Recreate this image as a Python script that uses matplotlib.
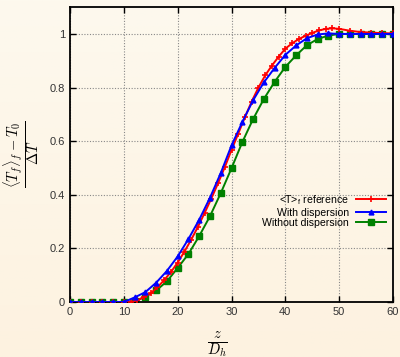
import numpy as np
import matplotlib
matplotlib.use("Agg")
import matplotlib.pyplot as plt

plt.rcParams['font.family'] = ['Liberation Sans', 'DejaVu Sans']
plt.rcParams['mathtext.fontset'] = 'cm'

# reference curve (red)
ref_x = [0, 2, 4, 6, 8, 10, 11.25, 12.5, 13.75, 15, 16.25, 17.5, 18.75, 20,
         21.25, 22.5, 23.75, 25, 26.25, 27.5, 28.75, 30, 31.25, 32.5, 33.75,
         35, 36.25, 37.5, 38.75, 40, 41.25, 42.5, 43.75, 45, 46.25, 47.5,
         48.75, 50, 52, 54, 56, 58, 60]
ref_y = [0, 0, 0, 0, 0, 0, 0.0, 0.006, 0.018, 0.033, 0.055, 0.082, 0.112,
         0.147, 0.188, 0.232, 0.280, 0.332, 0.386, 0.443, 0.503, 0.567, 0.628,
         0.690, 0.748, 0.800, 0.845, 0.882, 0.915, 0.945, 0.965, 0.981, 0.993,
         1.004, 1.013, 1.019, 1.021, 1.019, 1.012, 1.007, 1.005, 1.003, 1.002]

# model curves, every 2 units
z = list(range(0, 61, 2))
with_disp = [0, 0, 0, 0, 0, 0, 0.017, 0.037, 0.072, 0.116, 0.170, 0.235,
             0.307, 0.389, 0.481, 0.584, 0.671, 0.752, 0.819, 0.873, 0.922,
             0.957, 0.984, 0.998, 1.002, 1.0, 1.0, 1.0, 1.0, 1.0, 1.0]
without_disp = [0, 0, 0, 0, 0, 0, 0.003, 0.020, 0.043, 0.077, 0.127, 0.179,
                0.246, 0.320, 0.406, 0.499, 0.596, 0.682, 0.757, 0.821, 0.877,
                0.920, 0.958, 0.981, 0.994, 1.0, 1.0, 1.0, 1.0, 1.0, 1.0]

fig = plt.figure(figsize=(4.0, 3.57), dpi=100)

# cream background with a faint vertical gradient
bg = fig.add_axes([0, 0, 1, 1], zorder=-10)
grad = np.linspace(0, 1, 256).reshape(-1, 1)
top = np.array([253, 249, 238]) / 255
bot = np.array([253, 242, 224]) / 255
img = top + (bot - top) * grad[:, :, None]
bg.imshow(np.repeat(img, 2, axis=1), aspect='auto', extent=[0, 1, 0, 1])
bg.axis('off')

ax = fig.add_axes([0.175, 0.154, 0.8075, 0.826])
ax.set_facecolor('none')

ax.plot(ref_x, ref_y, color='#ff0000', lw=1.4, marker='+', ms=5, mew=1.2,
        label=r'<T>$_\mathregular{f}$ reference', zorder=3)
ax.plot(z, with_disp, color='#0000ff', lw=1.4, marker='^', ms=3.5,
        label='With dispersion', zorder=4)
ax.plot(z, without_disp, color='#008000', lw=1.4, marker='s', ms=4.5,
        label='Without dispersion', zorder=2)

ax.set_xlim(0, 60)
ax.set_ylim(0, 1.1)
ax.set_xticks(range(0, 61, 10))
ax.set_yticks([0, 0.2, 0.4, 0.6, 0.8, 1])
ax.set_yticklabels(['0', '0.2', '0.4', '0.6', '0.8', '1'])
ax.tick_params(direction='in', top=True, right=True, labelsize=8, length=4,
               width=1, colors='black', labelcolor='#333333')
ax.grid(True, color='#888888', ls=(0, (1, 1.5)), lw=0.8)
for s in ax.spines.values():
    s.set_linewidth(1.3)

ax.set_xlabel(r'$\frac{z}{D_h}$', fontsize=15, labelpad=9)
ax.xaxis.label.set_x(0.458)
ax.set_ylabel(r'$\frac{\langle T_f\rangle_f - T_0}{\Delta T}$', fontsize=15,
              labelpad=6)

ax.legend(loc='center right', bbox_to_anchor=(1.0, 0.31), frameon=False,
          markerfirst=False, fontsize=7.6, handlelength=2.8, labelspacing=0.05,
          handletextpad=0.7, borderaxespad=0.3)

fig.savefig('out.png', dpi=100)
